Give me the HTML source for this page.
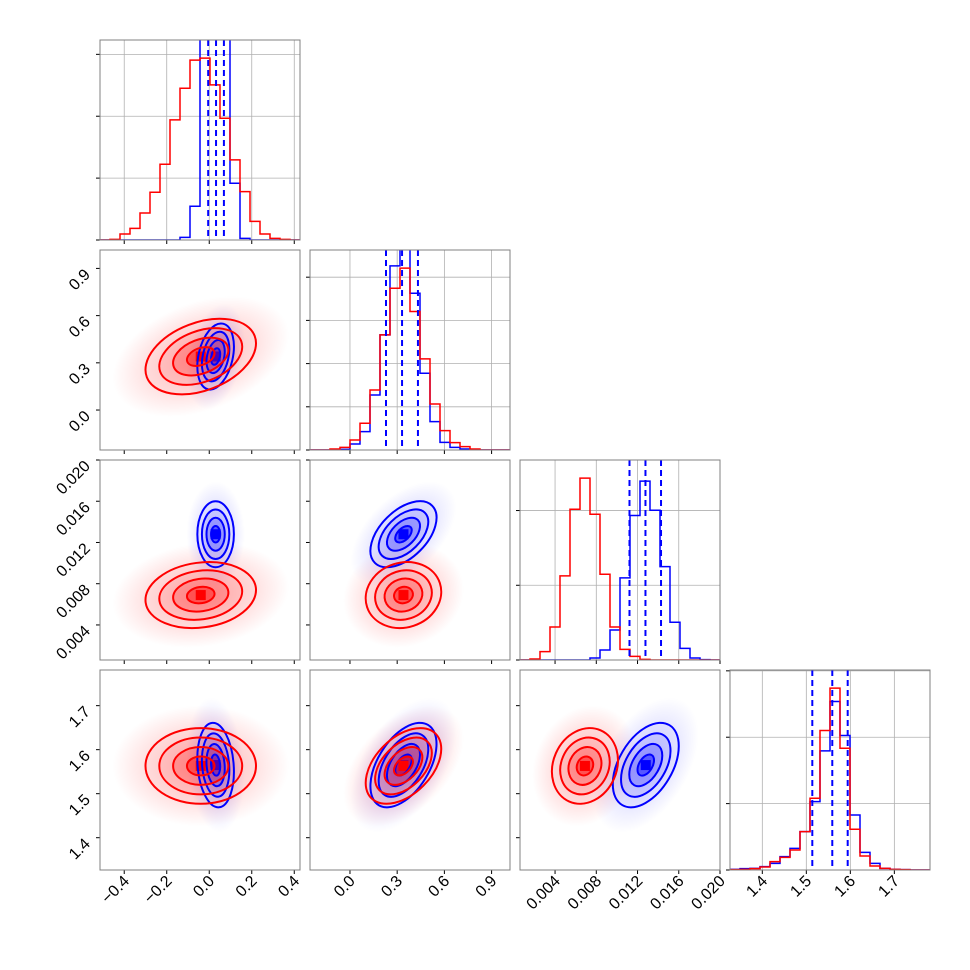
<!DOCTYPE html>
<html><head><meta charset="utf-8"><style>
html,body{margin:0;padding:0;background:#fff;}
svg{display:block;font-family:"Liberation Sans","DejaVu Sans",sans-serif;}
</style></head><body>
<svg id="chart" width="970" height="970" viewBox="0 0 970 970" xmlns="http://www.w3.org/2000/svg">
<defs>
<radialGradient id="gRed"><stop offset="0" stop-color="#ff0000" stop-opacity="0.26"/><stop offset="0.6" stop-color="#ff0000" stop-opacity="0.12"/><stop offset="1" stop-color="#ff0000" stop-opacity="0"/></radialGradient>
<radialGradient id="gBlue"><stop offset="0" stop-color="#0000ff" stop-opacity="0.2"/><stop offset="0.6" stop-color="#0000ff" stop-opacity="0.09"/><stop offset="1" stop-color="#0000ff" stop-opacity="0"/></radialGradient>
</defs>
</svg>
<script>
// ---- data ----
const paramLo = [-0.514, -0.254, 0.0006, 1.3266];
const paramHi = [0.427, 1.017, 0.0200, 1.781];
const ticks0 = [-0.4, -0.2, 0.0, 0.2, 0.4];
const ticks1 = [0.0, 0.3, 0.6, 0.9];
const ticks2 = [0.004, 0.008, 0.012, 0.016, 0.020];
const ticks3 = [1.4, 1.5, 1.6, 1.7];
const tickLabels0 = ["\u22120.4", "\u22120.2", "0.0", "0.2", "0.4"];
const tickLabels1 = ["0.0", "0.3", "0.6", "0.9"];
const tickLabels2 = ["0.004", "0.008", "0.012", "0.016", "0.020"];
const tickLabels3 = ["1.4", "1.5", "1.6", "1.7"];
const histRed0 = [0,2,18,35,81,143,227,360,455,539,545,465,365,240,145,56,18,5,2,0];
const histBlue0 = [0,0,0,0,0,0,0,0,8,101,1000,1150,950,170,5,0,0,0,0,0];
const histRed1 = [0,0,3,8,30,80,180,345,485,545,415,273,138,58,22,10,3,0,0,0];
const histBlue1 = [0,0,0,2,18,55,165,345,552,650,470,230,85,23,8,3,0,0,0,0];
const histRed2 = [0,3,25,99,252,452,545,437,257,99,32,11,2,0,0,0,0,0,0,0];
const histBlue2 = [0,0,0,0,0,0,0,6,30,90,246,433,536,449,280,113,35,6,1,0];
const histRed3 = [1,2,4,9,25,38,60,115,215,418,545,365,122,42,12,5,2,1,0,0];
const histBlue3 = [2,4,5,10,20,40,65,115,205,357,505,403,165,53,20,5,2,1,0,0];
const histTickStep = [185.5, 129.5, 224, 199];
const quantiles0 = [-0.005, 0.032, 0.069];
const quantiles1 = [0.229, 0.331, 0.432];
const quantiles2 = [0.01122, 0.01277, 0.01428];
const quantiles3 = [1.5136, 1.559, 1.594];
const redMean = [-0.04, 0.34, 0.0069, 1.563];
const redStd = [0.13, 0.12, 0.0016, 0.043];
const blueMean = [0.03, 0.34, 0.0128, 1.565];
const blueStd = [0.043, 0.105, 0.0016, 0.048];
// correlations for pairs in order (0,1),(0,2),(1,2),(0,3),(1,3),(2,3)
const redCorr = [0.35, 0.15, 0.1, 0.0, 0.45, 0.15];
const blueCorr = [0.3, 0.0, 0.5, -0.15, 0.5, 0.45];
const contourLevels = [2, 1.5, 1, 0.5];

// ---- layout ----
const svg = document.getElementById('chart');
const NS = 'http://www.w3.org/2000/svg';
const X0 = 100, Y0 = 40, S = 200, G = 210;
const allTicks = [ticks0, ticks1, ticks2, ticks3];
const allLabels = [tickLabels0, tickLabels1, tickLabels2, tickLabels3];
const histRed = [histRed0, histRed1, histRed2, histRed3];
const histBlue = [histBlue0, histBlue1, histBlue2, histBlue3];
const quants = [quantiles0, quantiles1, quantiles2, quantiles3];
function mk(tag, attrs, parent){ const e=document.createElementNS(NS,tag); for(const k in attrs) e.setAttribute(k, attrs[k]); (parent||svg).appendChild(e); return e; }
function xs(p, col){ return v => X0 + col*G + (v - paramLo[p])/(paramHi[p]-paramLo[p])*S; }
function ys(p, row){ return v => Y0 + row*G + S - (v - paramLo[p])/(paramHi[p]-paramLo[p])*S; }
function pairIndex(i,j){ const m={"0,1":0,"0,2":1,"1,2":2,"0,3":3,"1,3":4,"2,3":5}; return m[i+","+j]; }

for(let r=0;r<4;r++){
  for(let c=0;c<=r;c++){
    const px = X0 + c*G, py = Y0 + r*G;
    const g = mk('g', {});
    
    
    const cid = 'clip'+r+c;
    const cp = mk('clipPath', {id: cid}, g);
    mk('rect', {x:px, y:py, width:S, height:S}, cp);
    const inner = mk('g', {'clip-path':'url(#'+cid+')'}, g);
    const sx = xs(c, c);
    if(r===c){
      const p = r;
      const maxv = Math.max(...histRed[p])*1.1;
      const yv = v => py + S - v/maxv*S;
      allTicks[p].forEach(t=>{ mk('line',{x1:sx(t),x2:sx(t),y1:py,y2:py+S,stroke:'#b0b0b0','stroke-width':0.8},inner); });
      for(let t=0;t<=maxv;t+=histTickStep[p]){ mk('line',{x1:px,x2:px+S,y1:yv(t),y2:yv(t),stroke:'#b0b0b0','stroke-width':0.8},inner);
        mk('line',{x1:px-4,x2:px,y1:yv(t),y2:yv(t),stroke:'#000','stroke-width':1},g); }
      const nb = histRed[p].length, bw = (paramHi[p]-paramLo[p])/nb;
      [[histBlue[p],'#0000ff','hist-blue'],[histRed[p],'#ff0000','hist-red']].forEach(([h,col,nm])=>{
        let d = 'M'+sx(paramLo[p])+','+yv(0);
        h.forEach((v,i)=>{ const a=sx(paramLo[p]+i*bw), b=sx(paramLo[p]+(i+1)*bw); d+=' L'+a+','+yv(v)+' L'+b+','+yv(v); });
        d += ' L'+sx(paramHi[p])+','+yv(0);
        const path = mk('path',{d:d,fill:'none',stroke:col,'stroke-width':1.5},inner);
        
        
      });
      quants[p].forEach((q,k)=>{
        const ln = mk('line',{x1:sx(q),x2:sx(q),y1:py,y2:py+S,stroke:'#0000ff','stroke-width':2,'stroke-dasharray':'6,4'},inner);
        
        
      });
    } else {
      const sy = ys(r, r);
      const ci = pairIndex(c, r);
      const sets = [[blueMean,blueStd,blueCorr[ci],'#0000ff','gBlue','blue'],[redMean,redStd,redCorr[ci],'#ff0000','gRed','red']];
      const ells = sets.map(([m,s,rho,col,grad,nm])=>{
        const cx = sx(m[c]), cy = sy(m[r]);
        const psx = s[c]/(paramHi[c]-paramLo[c])*S, psy = s[r]/(paramHi[r]-paramLo[r])*S;
        const a = psx*psx, d = psy*psy, b = -rho*psx*psy;
        const th = 0.5*Math.atan2(2*b, a-d);
        const tr = (a+d)/2, df = Math.sqrt(((a-d)/2)**2 + b*b);
        return {cx, cy, r1:Math.sqrt(tr+df), r2:Math.sqrt(Math.max(tr-df,1)), ang:th*180/Math.PI, col, grad, nm};
      });
      [ells[1], ells[0]].forEach(e=>{
        const el = mk('ellipse',{cx:e.cx,cy:e.cy,rx:e.r1*3.2,ry:e.r2*3.2,fill:'url(#'+e.grad+')',transform:'rotate('+e.ang+' '+e.cx+' '+e.cy+')'},inner);
        
        
      });
      const fillOp = [0.03, 0.09, 0.2, 0.4];
      ells.forEach(e=>{
        contourLevels.forEach((k,li)=>{
          mk('ellipse',{cx:e.cx,cy:e.cy,rx:e.r1*k,ry:e.r2*k,fill:e.col,'fill-opacity':fillOp[li],transform:'rotate('+e.ang+' '+e.cx+' '+e.cy+')'},inner);
        });
        mk('rect',{x:e.cx-5,y:e.cy-5,width:10,height:10,fill:e.col},inner);
      });
      ells.forEach(e=>{
        contourLevels.forEach((k,li)=>{
          const el = mk('ellipse',{cx:e.cx,cy:e.cy,rx:e.r1*k,ry:e.r2*k,fill:'none',stroke:e.col,'stroke-width':2,transform:'rotate('+e.ang+' '+e.cx+' '+e.cy+')'},inner);
          
          
        });
      });
      allTicks[r].forEach(t=>{ const y=sy(t); if(y>=py-0.5&&y<=py+S+0.5) mk('line',{x1:px-4,x2:px,y1:y,y2:y,stroke:'#000','stroke-width':1},g); });
    }
    allTicks[c].forEach(t=>{ const x=sx(t); if(x>=px-0.5&&x<=px+S+0.5) mk('line',{x1:x,x2:x,y1:py+S,y2:py+S+4,stroke:'#000','stroke-width':1},g); });
    const frame = mk('rect',{x:px,y:py,width:S,height:S,fill:'none',stroke:'#808080','stroke-width':1},g);
    
    
  }
}
for(let c=0;c<4;c++){
  const sx = xs(c,c);
  allTicks[c].forEach((t,k)=>{
    const x = sx(t)+6, y = 882;
    const tx = mk('text',{x:0,y:0,'text-anchor':'end','font-size':16,fill:'#000',transform:'translate('+x+','+y+') rotate(-45)'});
    tx.textContent = allLabels[c][k];
    
    
  });
}
for(let r=1;r<4;r++){
  const sy = ys(r,r);
  allTicks[r].forEach((t,k)=>{
    const y = sy(t); if(y<Y0+r*G-0.5||y>Y0+r*G+S+0.5) return;
    const tx = mk('text',{x:0,y:0,'text-anchor':'end','font-size':16,fill:'#000',transform:'translate(91,'+(y+7)+') rotate(-45)'});
    tx.textContent = allLabels[r][k];
    
    
  });
}
</script>
</body></html>
